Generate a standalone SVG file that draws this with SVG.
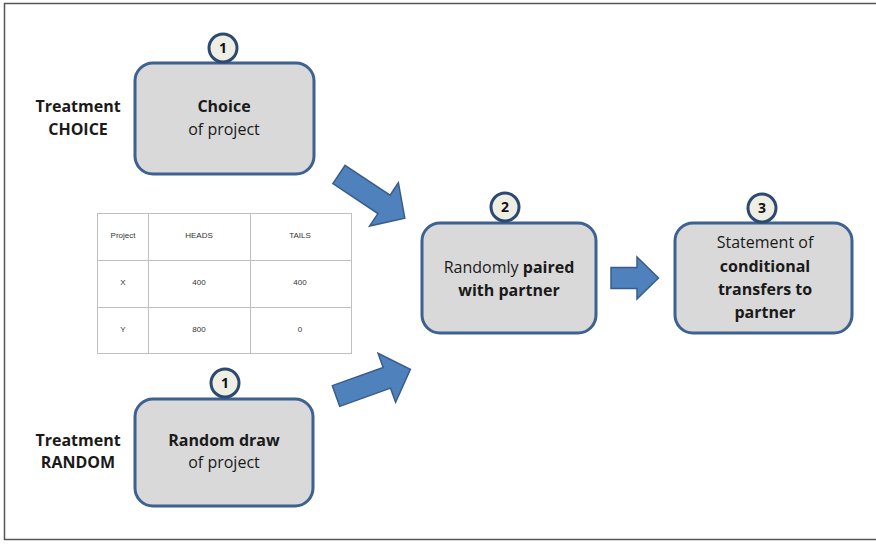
<svg xmlns="http://www.w3.org/2000/svg" width="876" height="544" viewBox="0 0 876 544">
<defs>
<style>
.box{fill:#d9d9d9;stroke:#3d6190;stroke-width:3}
.badge{fill:#efeee4;stroke:#2c4a70;stroke-width:3}
.num{font-family:"Open Sans","Liberation Sans",sans-serif;font-weight:bold;font-size:14px;fill:#111;text-anchor:middle}
.t{font-family:"Open Sans","Liberation Sans",sans-serif;font-size:16px;fill:#1a1a1a;text-anchor:middle}
.b{font-weight:bold}
.arrow{fill:#4f81bd;stroke:#385d8a;stroke-width:1.5;stroke-linejoin:miter}
.tbl{fill:#fff;stroke:#bfbfbf;stroke-width:1}
.tl{stroke:#bfbfbf;stroke-width:1}
.tt{font-family:"Liberation Sans",Arial,sans-serif;font-size:8px;fill:#333;text-anchor:middle}
</style>
</defs>
<rect x="0" y="0" width="876" height="544" fill="#fff"/>
<rect x="4.5" y="3.5" width="880" height="536" fill="none" stroke="#555" stroke-width="1.5"/>

<g id="label-choice">
<text class="t b" x="78" y="112">Treatment</text>
<text class="t b" x="78" y="135">CHOICE</text>
</g>
<g id="label-random">
<text class="t b" x="78" y="446">Treatment</text>
<text class="t b" x="78" y="468">RANDOM</text>
</g>

<g id="node-choice">
<rect class="box" x="135" y="63" width="179" height="111" rx="18"/>
<circle class="badge" cx="223" cy="48" r="14"/>
<text class="num" x="223" y="53">1</text>
<text class="t b" x="224" y="112">Choice</text>
<text class="t" x="224" y="135">of project</text>
</g>

<g id="node-random">
<rect class="box" x="135" y="399" width="178" height="107" rx="18"/>
<circle class="badge" cx="225" cy="383" r="14"/>
<text class="num" x="225" y="388">1</text>
<text class="t b" x="224" y="446">Random draw</text>
<text class="t" x="224" y="468">of project</text>
</g>

<g id="table">
<rect class="tbl" x="97.5" y="213.5" width="254" height="140"/>
<line class="tl" x1="97.5" y1="260.5" x2="351.5" y2="260.5"/>
<line class="tl" x1="97.5" y1="307.5" x2="351.5" y2="307.5"/>
<line class="tl" x1="148.5" y1="213.5" x2="148.5" y2="353.5"/>
<line class="tl" x1="250.5" y1="213.5" x2="250.5" y2="353.5"/>
<text class="tt" x="123" y="238">Project</text>
<text class="tt" x="199" y="238">HEADS</text>
<text class="tt" x="300" y="238">TAILS</text>
<text class="tt" x="123" y="285">X</text>
<text class="tt" x="199" y="285">400</text>
<text class="tt" x="300" y="285">400</text>
<text class="tt" x="123" y="332">Y</text>
<text class="tt" x="199" y="332">800</text>
<text class="tt" x="300" y="332">0</text>
</g>

<g id="node-paired">
<rect class="box" x="422" y="223" width="174" height="110" rx="18"/>
<circle class="badge" cx="505" cy="207" r="14"/>
<text class="num" x="505" y="212">2</text>
<text class="t" x="509" y="273">Randomly <tspan class="b">paired</tspan></text>
<text class="t b" x="509" y="296">with partner</text>
</g>

<g id="node-statement">
<rect class="box" x="675" y="223" width="177" height="110" rx="18"/>
<circle class="badge" cx="762" cy="208" r="14"/>
<text class="num" x="762" y="213">3</text>
<text class="t" x="765" y="248">Statement of</text>
<text class="t b" x="765" y="272">conditional</text>
<text class="t b" x="765" y="295">transfers to</text>
<text class="t b" x="765" y="318">partner</text>
</g>

<g id="connectors">
<path class="arrow" transform="translate(339,174.5) rotate(33.6)" d="M0,-11 L54,-11 L54,-26 L79,0 L54,26 L54,11 L0,11 Z"/>
<path class="arrow" transform="translate(336,396) rotate(-19.7)" d="M0,-11 L54,-11 L54,-26 L79,0 L54,26 L54,11 L0,11 Z"/>
<path class="arrow" transform="translate(611,278)" d="M0,-10.5 L26,-10.5 L26,-21 L47.5,0 L26,21 L26,10.5 L0,10.5 Z"/>
</g>
</svg>
